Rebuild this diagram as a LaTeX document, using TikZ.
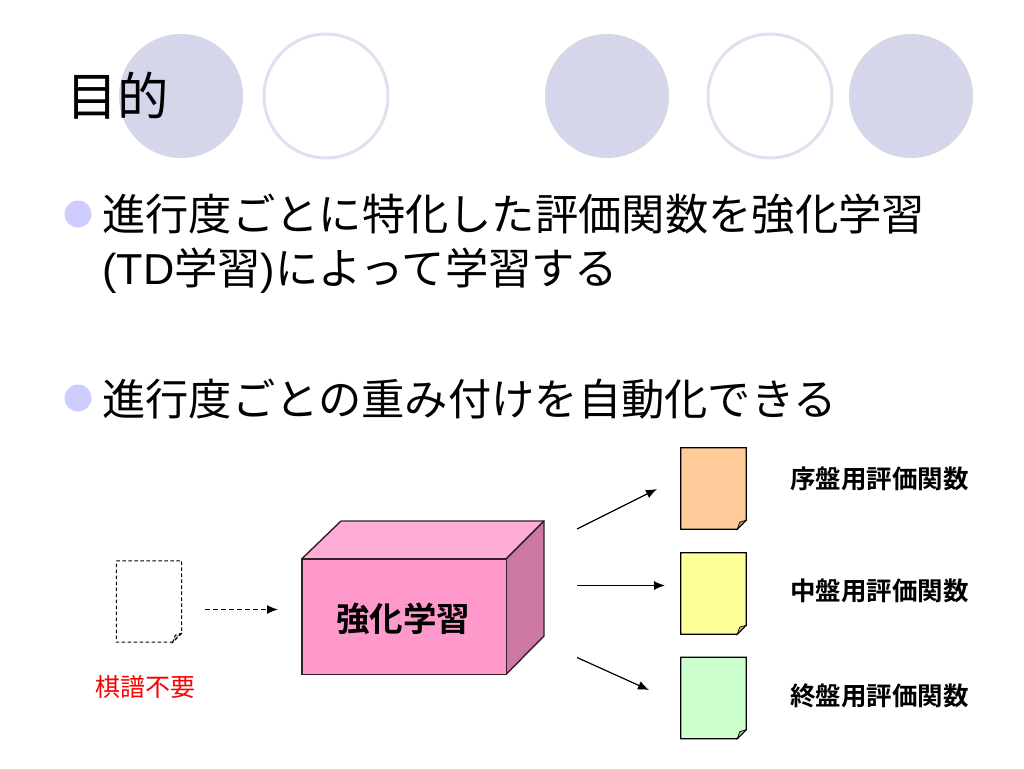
\documentclass[tikz,border=0pt]{standalone}
\usepackage{fontspec}
\setmainfont{Liberation Sans}
\newfontfamily\cjk{Noto Sans CJK JP}
\newfontfamily\cjkb{Noto Sans CJK JP Bold}
\usetikzlibrary{arrows.meta}
\definecolor{discfill}{HTML}{D6D6EA}
\definecolor{discline}{HTML}{E0E0F0}
\definecolor{bulletc}{HTML}{CCCCFF}
\definecolor{boxfront}{HTML}{FF99CC}
\definecolor{boxtop}{HTML}{FFADD6}
\definecolor{boxside}{HTML}{CC7AA3}
\definecolor{edgec}{HTML}{33222C}
\definecolor{docorange}{HTML}{FFCC99}
\definecolor{docyellow}{HTML}{FFFF99}
\definecolor{docgreen}{HTML}{CCFFCC}
\tikzset{
  disc/.style={circle,minimum size=124pt,inner sep=0pt,fill=discfill},
  ring/.style={circle,minimum size=124pt,inner sep=0pt,fill=white,draw=discline,line width=3pt},
  bulletdot/.style={circle,minimum size=27pt,inner sep=0pt,fill=bulletc},
  bodytext/.style={anchor=base west,inner sep=0pt,font=\fontsize{43.3}{43.3}\selectfont},
  fntext/.style={anchor=base west,inner sep=0pt,font=\cjkb\fontsize{25.5}{25.5}\selectfont},
  docbox/.style={minimum width=65pt,minimum height=81pt,inner sep=0pt},
  link/.style={line width=1.2pt,-{Latex[length=11pt,width=9pt]}},
  docline/.style={line width=1.2pt,black}
}
\newcommand{\docshape}[4]{% name, centre, fill, line options
  \node[docbox] (#1) at (#2) {};
  \draw[docline,#4,fill=#3]
    (#1.north west) -- (#1.north east) -- ([yshift=9pt]#1.south east)
    -- ([xshift=-9pt]#1.south east) -- (#1.south west) -- cycle;
  \draw[line width=.7pt,#4,fill=#3!75!black]
    ([yshift=9pt]#1.south east) -- ([xshift=-9pt]#1.south east) -- ([xshift=-6.5pt,yshift=7pt]#1.south east) -- cycle;
}
\begin{document}
\begin{tikzpicture}[x=1pt,y=-1pt]
\useasboundingbox (0,0) rectangle (1024,768);
\fill[white] (0,0) rectangle (1024,768);
% decorative circles
\node[disc] (d1) at (181,96) {};
\node[ring] (r1) at (326,96) {};
\node[disc] (d2) at (607,96) {};
\node[ring] (r2) at (770,96) {};
\node[disc] (d3) at (911,96) {};
% title
\node[anchor=base west,inner sep=0pt,font=\cjk\fontsize{51.5}{51.5}\selectfont] (title) at (66,115) {目的};
% bullets
\node[bulletdot] (b1) at (78,214) {};
\node[bulletdot] (b2) at (78,398) {};
\node[bodytext] (t1) at (102,230) {\cjk 進行度ごとに特化した評価関数を強化学習};
\node[bodytext] (t2) at (102,284) {(TD{\cjk 学習})\cjk によって学習する};
\node[bodytext] (t3) at (102,415) {\cjk 進行度ごとの重み付けを自動化できる};
% left document
\docshape{src}{149,601.5}{white}{dashed,line width=1pt,dash pattern=on 3.5pt off 2.5pt}
\node[anchor=base west,inner sep=0pt,text=red,font=\cjk\fontsize{25}{25}\selectfont] (nokifu) at (95,696.5) {棋譜不要};
% box
\node[minimum width=204pt,minimum height=115pt,inner sep=0pt] (box) at (404,616.5) {};
\coordinate (bt1) at (341,521);
\coordinate (bt2) at (544,521);
\coordinate (bt3) at (544,636);
\draw[edgec,line width=1.4pt,line join=round,fill=boxtop] (box.north west) -- (bt1) -- (bt2) -- (box.north east) -- cycle;
\draw[edgec,line width=1.4pt,line join=round,fill=boxside] (box.north east) -- (bt2) -- (bt3) -- (box.south east) -- cycle;
\draw[edgec,line width=1.4pt,fill=boxfront] (box.north west) rectangle (box.south east);
\node[anchor=base,inner sep=0pt,font=\cjkb\fontsize{33.5}{33.5}\selectfont] (boxlabel) at (403,631) {強化学習};
% output documents
\docshape{o1}{713.5,488.5}{docorange}{}
\docshape{o2}{713.5,593.5}{docyellow}{}
\docshape{o3}{713.5,698}{docgreen}{}
\node[fntext] (l1) at (790,488) {序盤用評価関数};
\node[fntext] (l2) at (790,600) {中盤用評価関数};
\node[fntext] (l3) at (790,705) {終盤用評価関数};
% connectors
\coordinate (a0s) at (205,609.5);
\coordinate (a0e) at (278,609.5);
\coordinate (a1s) at (577,529);
\coordinate (a1e) at (657,489);
\coordinate (a2s) at (577,585.5);
\coordinate (a2e) at (665,585.5);
\coordinate (a3s) at (577,657.5);
\coordinate (a3e) at (649,690);
\draw[link,dash pattern=on 5pt off 3pt] (a0s) -- (a0e);
\draw[link] (a1s) -- (a1e);
\draw[link] (a2s) -- (a2e);
\draw[link] (a3s) -- (a3e);
\end{tikzpicture}
\end{document}
